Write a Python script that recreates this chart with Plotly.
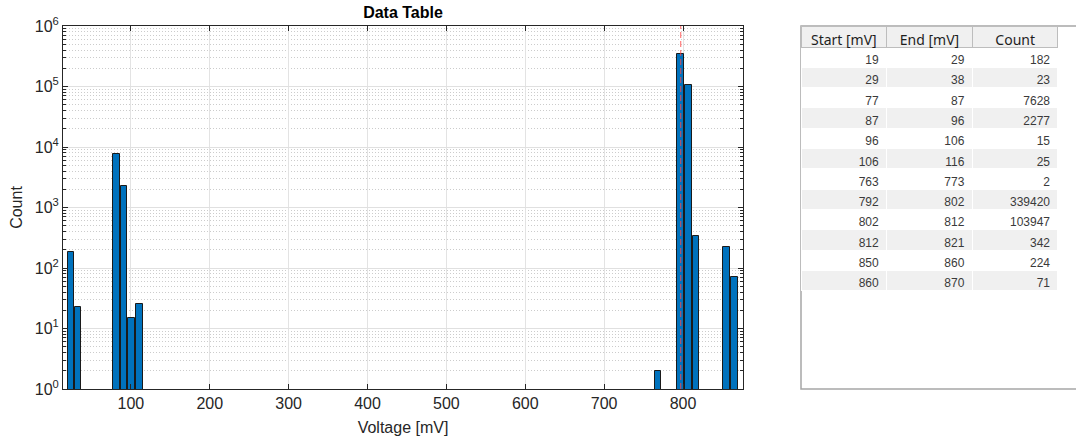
import plotly.graph_objects as go

# ---- data ----
start_mv = [19, 29, 77, 87, 96, 106, 763, 792, 802, 812, 850, 860]
end_mv = [29, 38, 87, 96, 106, 116, 773, 802, 812, 821, 860, 870]
counts = [182, 23, 7628, 2277, 15, 25, 2, 339420, 103947, 342, 224, 71]
peak_voltage = 797
x_ticks = [100, 200, 300, 400, 500, 600, 700, 800]
y_ticks = [1, 10, 100, 1000, 10000, 100000, 1000000]
y_ticklabels = ["10<sup>0</sup>", "10<sup>1</sup>", "10<sup>2</sup>", "10<sup>3</sup>",
                "10<sup>4</sup>", "10<sup>5</sup>", "10<sup>6</sup>"]
y_minor_ticks = [m * 10 ** k for k in range(6) for m in range(2, 10)]

centers = [(s + e) / 2 for s, e in zip(start_mv, end_mv)]
widths = [(e - s) * 0.82 for s, e in zip(start_mv, end_mv)]

W, H = 1076, 439
ML, MR, MT, MB = 63, 18, 26, 50
pw = W - ML - MR
ax_right = (743 - ML) / pw
tab_left = (801 - ML) / pw

fig = go.Figure()
fig.add_trace(go.Bar(
    x=centers, y=counts, width=widths,
    marker=dict(color="#0072BD", line=dict(color="#1a1a1a", width=1)),
    showlegend=False, hoverinfo="x+y",
))

fig.add_trace(go.Table(
    domain=dict(x=[tab_left, 1.0], y=[0, 1.0]),
    columnwidth=[1, 1, 1],
    header=dict(
        values=["Start [mV]", "End [mV]", "Count"],
        fill_color="#f0f0f0",
        line=dict(color="#bdbdbd", width=1),
        font=dict(family="Noto Sans, Open Sans, sans-serif", size=14, color="#1e1e1e"),
        align="center", height=21,
    ),
    cells=dict(
        values=[start_mv, end_mv, counts],
        fill_color=[["#ffffff" if i % 2 == 0 else "#f0f0f0" for i in range(len(counts))]] * 3,
        line=dict(color="#ffffff", width=1),
        font=dict(family="Liberation Sans, Arial, sans-serif", size=12, color="#3a3a3a"),
        align="right", height=20.3,
    ),
))

# outer frame of table panel
fig.add_shape(type="rect", xref="paper", yref="paper",
              x0=tab_left, x1=1.05, y0=0, y1=1.0,
              line=dict(color="#a6a6a6", width=1.5), fillcolor="rgba(0,0,0,0)",
              layer="below")

# dashed reference line
fig.add_shape(type="line", xref="x", yref="paper",
              x0=peak_voltage, x1=peak_voltage, y0=0, y1=1,
              line=dict(color="rgba(255,70,70,0.7)", width=1.2, dash="6px,3px"))

axis_font = dict(family="Liberation Sans, Arial, sans-serif", size=16, color="#262626")

fig.update_layout(
    width=W, height=H,
    margin=dict(l=ML, r=MR, t=MT, b=MB, autoexpand=False),
    paper_bgcolor="white", plot_bgcolor="white",
    bargap=0,
    title=dict(text="<b>Data Table</b>", x=(403 - ML) / pw, xref="paper", xanchor="center",
               y=1 - 12 / H, yref="container", yanchor="middle",
               font=dict(family="Liberation Sans, Arial, sans-serif", size=16, color="#000000")),
    xaxis=dict(
        domain=[0, ax_right], range=[14, 876], automargin=False,
        tickvals=x_ticks, ticks="inside", ticklen=5, tickcolor="#262626",
        showline=True, linecolor="#262626", linewidth=1, mirror="ticks",
        showgrid=True, gridcolor="#e3e3e3", gridwidth=1, zeroline=False,
        tickfont=axis_font,
        title=dict(text="Voltage [mV]", font=axis_font, standoff=10),
    ),
    yaxis=dict(
        type="log", range=[0, 6], automargin=False,
        tickvals=y_ticks, ticktext=y_ticklabels,
        ticks="inside", ticklen=5, tickcolor="#262626",
        showline=True, linecolor="#262626", linewidth=1, mirror="ticks",
        showgrid=True, gridcolor="#e0e0e0", gridwidth=1, zeroline=False,
        tickfont=axis_font,
        minor=dict(tickvals=y_minor_ticks, ticks="inside", ticklen=3, tickcolor="#262626",
                   showgrid=True, gridcolor="#cccccc", griddash="1px,2px", gridwidth=1),
        title=dict(text="Count", font=axis_font, standoff=8),
    ),
)

fig.write_html("out.html", config={"displayModeBar": False},
               post_script="document.body.style.margin='0';")
